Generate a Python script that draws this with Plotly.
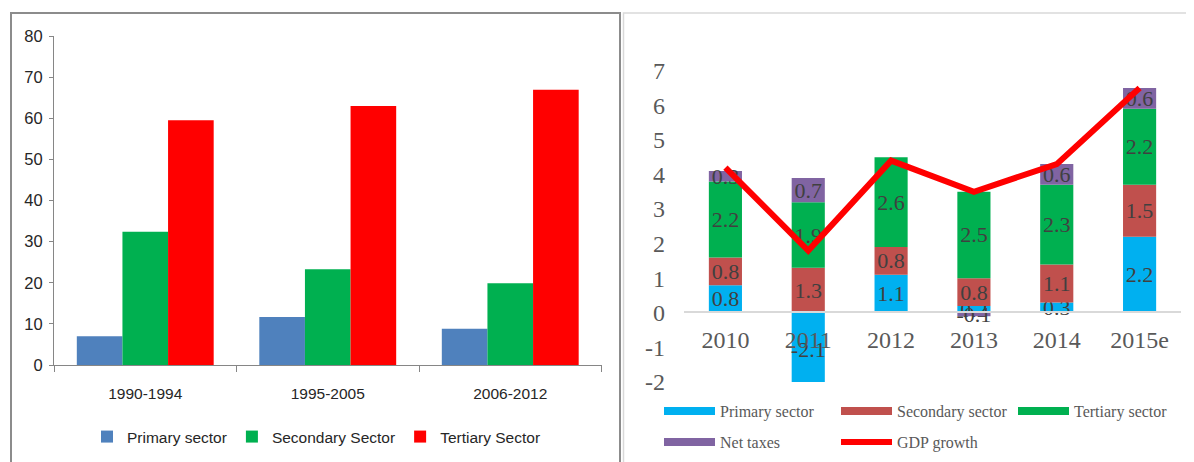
import plotly.graph_objects as go

# ---------------- data: left chart (sector shares, %) ----------------
periods = ["1990-1994", "1995-2005", "2006-2012"]
share_primary = [7.0, 11.7, 8.8]
share_secondary = [32.4, 23.3, 19.9]
share_tertiary = [59.5, 63.0, 66.9]
left_ticks = [0, 10, 20, 30, 40, 50, 60, 70, 80]

# ---------------- data: right chart (contributions to GDP growth) ----------------
years = ["2010", "2011", "2012", "2013", "2014", "2015e"]
contrib_primary = [0.8, -2.1, 1.1, 0.2, 0.3, 2.2]
contrib_secondary = [0.8, 1.3, 0.8, 0.8, 1.1, 1.5]
contrib_tertiary = [2.2, 1.9, 2.6, 2.5, 2.3, 2.2]
contrib_taxes = [0.3, 0.7, None, -0.1, 0.6, 0.6]
gdp_growth = [4.2, 1.8, 4.4, 3.5, 4.3, 6.5]
right_ticks = [-2, -1, 0, 1, 2, 3, 4, 5, 6, 7]

W, H = 1194, 462
PAGE_OFFSET = 8  # the page body adds an 8px margin around the figure
SANS = "Liberation Sans, Arial, sans-serif"
SERIF = "Liberation Serif, Times New Roman, serif"


def px_x(x):
    return (x - PAGE_OFFSET) / W


def px_y(y):
    return 1 - (y - PAGE_OFFSET) / H


def fmt(v):
    return "" if v is None else f"{v:.1f}"


fig = go.Figure()

# left grouped bars
for name, vals, col, grp in [
    ("Primary sector", share_primary, "#4f81bd", "a"),
    ("Secondary Sector", share_secondary, "#00b050", "b"),
    ("Tertiary Sector", share_tertiary, "#ff0000", "c"),
]:
    fig.add_trace(go.Bar(
        x=periods, y=vals, name=name, marker=dict(color=col, line=dict(width=0)),
        offsetgroup=grp, xaxis="x", yaxis="y", legend="legend",
    ))

# right stacked bars
right_series = [
    ("Primary sector", contrib_primary, "#00b0f0", "legend2"),
    ("Secondary sector", contrib_secondary, "#c0504d", "legend2"),
    ("Tertiary sector", contrib_tertiary, "#00b050", "legend2"),
    ("Net taxes", contrib_taxes, "#8064a2", "legend3"),
]
for name, vals, col, lg in right_series:
    fig.add_trace(go.Bar(
        x=years, y=vals, name=name, width=0.4, offsetgroup="s",
        marker=dict(color=col, line=dict(width=0)),
        text=[fmt(v) for v in vals], texttemplate="%{text}",
        textposition="inside", insidetextanchor="middle",
        textangle=0, constraintext="none",
        textfont=dict(family=SERIF, size=22, color="#404040"),
        xaxis="x2", yaxis="y2", showlegend=False,
    ))

# legend entries for the right chart (wide swatches)
for name, vals, col, lg in right_series:
    fig.add_trace(go.Scatter(
        x=[None], y=[None], name=name, mode="lines",
        line=dict(color=col, width=8),
        xaxis="x2", yaxis="y2", legend=lg, hoverinfo="skip",
    ))

fig.add_trace(go.Scatter(
    x=years, y=gdp_growth, name="GDP growth", mode="lines",
    line=dict(color="#ff0000", width=6),
    xaxis="x2", yaxis="y2", legend="legend3",
))

fig.update_layout(
    width=W, height=H,
    margin=dict(l=0, r=0, t=0, b=0, pad=0, autoexpand=False),
    paper_bgcolor="white", plot_bgcolor="white",
    barmode="relative", bargap=0.25, bargroupgap=0,
    xaxis=dict(
        domain=[px_x(54), px_x(601.5)], type="category", anchor="y",
        showline=True, linecolor="#868686", linewidth=1,
        ticks="outside", tickson="boundaries", ticklen=6, tickcolor="#868686",
        tickfont=dict(family=SANS, size=15.5, color="#262626"),
        ticklabelstandoff=14, showgrid=False,
    ),
    yaxis=dict(
        domain=[px_y(365), px_y(36)], range=[0, 80], tickvals=left_ticks, anchor="x",
        showline=True, linecolor="#868686", linewidth=1,
        ticks="outside", ticklen=4, tickcolor="#868686",
        tickfont=dict(family=SANS, size=16.5, color="#262626"),
        ticklabelstandoff=3, showgrid=False, zeroline=False,
    ),
    xaxis2=dict(
        domain=[px_x(684), px_x(1181)], type="category", anchor="free",
        position=px_y(312.4),
        showline=True, linecolor="#d9d9d9", linewidth=2, ticks="",
        tickfont=dict(family=SERIF, size=24, color="#595959"),
        ticklabelstandoff=6, showgrid=False,
    ),
    yaxis2=dict(
        domain=[px_y(382), px_y(70.7)], range=[-2, 7], anchor="x2",
        tickvals=right_ticks, ticktext=[str(t) for t in right_ticks],
        showline=False, ticks="", showgrid=False, zeroline=False,
        tickfont=dict(family=SERIF, size=24, color="#595959"),
        ticklabelstandoff=18,
    ),
    legend=dict(
        orientation="h", x=px_x(87), xanchor="left", y=px_y(437), yanchor="middle",
        font=dict(family=SANS, size=15.5, color="#262626"),
        bgcolor="rgba(0,0,0,0)",
    ),
    legend2=dict(
        orientation="h", x=px_x(659), xanchor="left", y=px_y(411), yanchor="middle",
        font=dict(family=SERIF, size=16, color="#595959"),
        itemwidth=51, entrywidth=111, entrywidthmode="pixels",
        bgcolor="rgba(0,0,0,0)",
    ),
    legend3=dict(
        orientation="h", x=px_x(659), xanchor="left", y=px_y(442), yanchor="middle",
        font=dict(family=SERIF, size=16, color="#595959"),
        itemwidth=51, entrywidth=111, entrywidthmode="pixels",
        bgcolor="rgba(0,0,0,0)",
    ),
    shapes=[
        dict(type="rect", xref="paper", yref="paper",
             x0=px_x(11), x1=px_x(620), y0=px_y(480), y1=px_y(13),
             line=dict(color="#8c8c8c", width=2), fillcolor="rgba(0,0,0,0)", layer="below"),
        dict(type="rect", xref="paper", yref="paper",
             x0=px_x(623.5), x1=px_x(1215), y0=px_y(480), y1=px_y(13),
             line=dict(color="#d9d9d9", width=1.5), fillcolor="rgba(0,0,0,0)", layer="below"),
    ],
)

fig.write_html("out.html")
